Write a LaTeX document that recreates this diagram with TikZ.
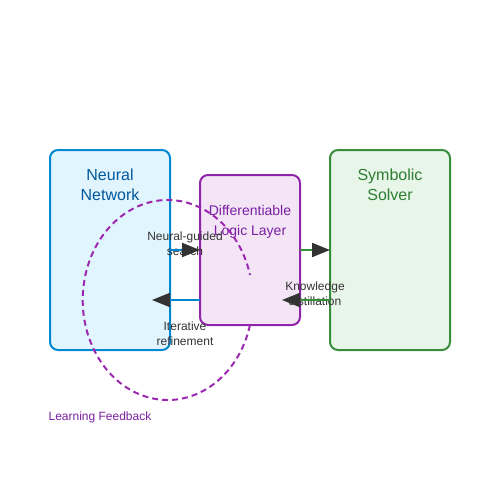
\documentclass[tikz,border=0pt]{standalone}
\usepackage{fontspec}
\setmainfont{Liberation Sans}
\usetikzlibrary{arrows.meta}
\definecolor{nnfill}{HTML}{E1F5FE}
\definecolor{nnline}{HTML}{0288D1}
\definecolor{nntext}{HTML}{01579B}
\definecolor{lgfill}{HTML}{F3E5F5}
\definecolor{lgline}{HTML}{8E24AA}
\definecolor{lgtext}{HTML}{7B1FA2}
\definecolor{sofill}{HTML}{E8F5E9}
\definecolor{soline}{HTML}{388E3C}
\definecolor{sotext}{HTML}{2E7D32}
\definecolor{dark}{HTML}{333333}
\definecolor{feed}{HTML}{9C27B0}
\tikzset{
  box/.style={rectangle, rounded corners=8pt, line width=2pt, inner sep=0pt, outer sep=0pt},
  title/.style={anchor=base, inner sep=0pt, font=\fontsize{16pt}{16pt}\selectfont},
  ltitle/.style={anchor=base, inner sep=0pt, font=\fontsize{14pt}{14pt}\selectfont},
  lbl/.style={anchor=base, inner sep=0pt, text=dark, font=\fontsize{12pt}{12pt}\selectfont},
  conn/.style={line width=2pt, -{Triangle[length=18pt, width=14pt, color=dark]}},
}
\begin{document}
\begin{tikzpicture}[x=1pt, y=-1pt]
\useasboundingbox (0,0) rectangle (500,500);
% boxes
\node[box, draw=nnline, fill=nnfill, minimum width=120pt, minimum height=200pt] (nn) at (110,250) {};
\node[box, draw=lgline, fill=lgfill, minimum width=100pt, minimum height=150pt] (logic) at (250,250) {};
\node[box, draw=soline, fill=sofill, minimum width=120pt, minimum height=200pt] (solver) at (390,250) {};
% titles
\node[title, text=nntext] (nnt1) at (110,180) {Neural};
\node[title, text=nntext] (nnt2) at (110,200) {Network};
\node[ltitle, text=lgtext] (lgt1) at (250,215) {Differentiable};
\node[ltitle, text=lgtext] (lgt2) at (250,235) {Logic Layer};
\node[title, text=sotext] (sot1) at (390,180) {Symbolic};
\node[title, text=sotext] (sot2) at (390,200) {Solver};
% connector labels
\node[lbl] (l1a) at (185,240) {Neural-guided};
\node[lbl] (l1b) at (185,255) {search};
\node[lbl] (l3a) at (185,330) {Iterative};
\node[lbl] (l3b) at (185,345) {refinement};
\node[lbl] (l4a) at (315,290) {Knowledge};
\node[lbl] (l4b) at (315,305) {distillation};
% connectors
\coordinate (rs) at (200,300);
\coordinate (re) at (152,300);
\coordinate (ks) at (330,300);
\coordinate (ke) at (282,300);
\draw[conn, nnline] (nn.east) -- (logic.west);
\draw[conn, soline] (logic.east) -- (solver.west);
\draw[conn, nnline] (rs) -- (re);
\draw[conn, soline] (ks) -- (ke);
% feedback loop
\coordinate (fbs) at (250,325);
\draw[feed, line width=2pt, dash pattern=on 6pt off 4pt] (fbs) arc[start angle=14.48, end angle=345.52, x radius=85, y radius=100];
\node[anchor=base, inner sep=0pt, text=lgtext, font=\fontsize{12pt}{12pt}\selectfont] (fbl) at (100,420) {Learning Feedback};
\end{tikzpicture}
\end{document}
